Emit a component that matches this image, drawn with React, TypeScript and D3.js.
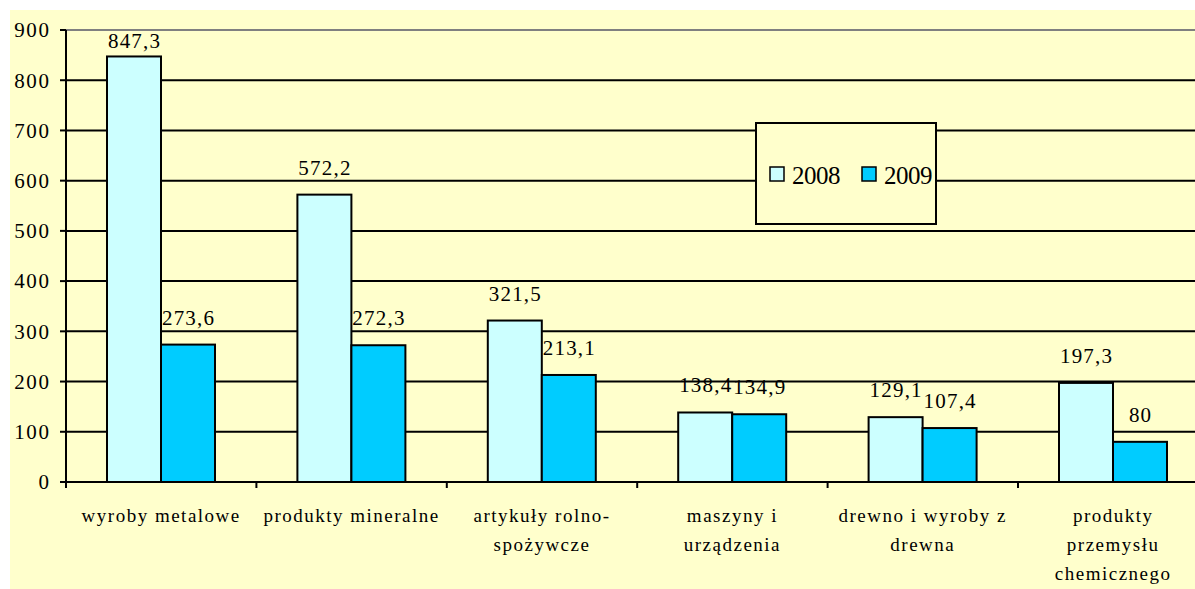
import React from 'react';
import * as d3 from 'd3';

const categories = [
  'wyroby metalowe',
  'produkty mineralne',
  'artykuły rolno-spożywcze',
  'maszyny i urządzenia',
  'drewno i wyroby z drewna',
  'produkty przemysłu chemicznego',
];
const categoryLines = [
  ['wyroby metalowe'],
  ['produkty mineralne'],
  ['artykuły rolno-', 'spożywcze'],
  ['maszyny i', 'urządzenia'],
  ['drewno i wyroby z', 'drewna'],
  ['produkty', 'przemysłu', 'chemicznego'],
];
const seriesNames = ['2008', '2009'];
const values2008 = [847.3, 572.2, 321.5, 138.4, 129.1, 197.3];
const values2009 = [273.6, 272.3, 213.1, 134.9, 107.4, 80];
const yTicks = [0, 100, 200, 300, 400, 500, 600, 700, 800, 900];

const colors = ['#CCFFFF', '#00CCFF'];
const font = "'Liberation Serif', 'DejaVu Serif', serif";

const fmt = (v: number) => String(v).replace('.', ',');

export default function App() {
  const width = 1195;
  const height = 589;
  const left = 66;
  const top = 30;
  const bottom = 482;
  const catWidth = 190.4;

  const x0 = d3.scaleBand<string>()
    .domain(categories)
    .range([left, left + catWidth * categories.length]);
  const x1 = d3.scaleBand<string>()
    .domain(seriesNames)
    .range([41, 149]);
  const y = d3.scaleLinear().domain([0, 900]).range([bottom, top]);

  const series = [values2008, values2009];

  return (
    <svg width={width} height={height}
      style={{ position: 'absolute', left: 0, top: 0, fontFamily: font }}>
      <rect x={10} y={10} width={width - 10} height={height - 10} fill="#FFFFCC" />

      {/* gridlines */}
      {yTicks.map(t => (
        <line key={t} x1={left} x2={width} y1={y(t)} y2={y(t)}
          stroke={t === 900 ? '#808080' : '#000'} strokeWidth={2} />
      ))}

      {/* bars */}
      {categories.map((c, i) => (
        <g key={c} transform={`translate(${x0(c)},0)`}>
          {series.map((vals, s) => (
            <rect key={s} x={x1(seriesNames[s])} width={x1.bandwidth()}
              y={y(vals[i])} height={y(0) - y(vals[i])}
              fill={colors[s]} stroke="#000" strokeWidth={2} />
          ))}
        </g>
      ))}

      {/* data labels */}
      {categories.map((c, i) => (
        <g key={c} transform={`translate(${x0(c)},0)`}>
          {series.map((vals, s) => (
            <text key={s} x={(x1(seriesNames[s]) as number) + x1.bandwidth() / 2 + 0.6}
              y={Math.max(y(vals[i]) - 20, top + 18)}
              textAnchor="middle" fontSize={21} letterSpacing={1.2} fill="#000"
              style={{ fontFamily: font }}>
              {fmt(vals[i])}
            </text>
          ))}
        </g>
      ))}

      {/* y axis */}
      <line x1={left} x2={left} y1={top} y2={bottom + 6} stroke="#000" strokeWidth={2} />
      {yTicks.map(t => (
        <g key={t}>
          <line x1={left - 6} x2={left} y1={y(t)} y2={y(t)} stroke="#000" strokeWidth={2} />
          <text x={left - 15.5} y={y(t)} dy="0.35em" textAnchor="end" fontSize={21}
            letterSpacing={1.6} style={{ fontFamily: font }}>{t}</text>
        </g>
      ))}

      {/* x axis */}
      <line x1={left} x2={width} y1={bottom} y2={bottom} stroke="#000" strokeWidth={2} />
      {categories.map(c => (
        <line key={c} x1={(x0(c) as number) + x0.bandwidth()} x2={(x0(c) as number) + x0.bandwidth()}
          y1={bottom} y2={bottom + 6} stroke="#000" strokeWidth={2} />
      ))}
      {categories.map((c, i) => (
        <text key={c} x={(x0(c) as number) + x0.bandwidth() / 2} y={522}
          textAnchor="middle" fontSize={19} letterSpacing={1.5} style={{ fontFamily: font }}>
          {categoryLines[i].map((ln, k) => (
            <tspan key={k} x={(x0(c) as number) + x0.bandwidth() / 2} dy={k === 0 ? 0 : 29}>{ln}</tspan>
          ))}
        </text>
      ))}

      {/* legend */}
      <rect x={756} y={123} width={180} height={101} fill="#FFFFCC" stroke="#000" strokeWidth={2} />
      {seriesNames.map((n, s) => (
        <g key={n} transform={`translate(${770 + s * 92},0)`}>
          <rect x={0} y={167} width={14} height={14} fill={colors[s]} stroke="#000" strokeWidth={1.5} />
          <text x={22} y={184} fontSize={25} letterSpacing={-0.5} style={{ fontFamily: font }}>{n}</text>
        </g>
      ))}
    </svg>
  );
}
